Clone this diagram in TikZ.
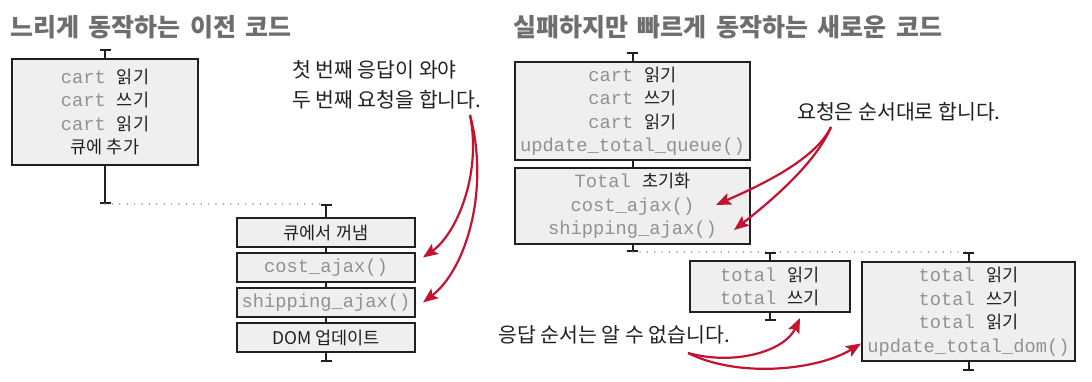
\documentclass[tikz,border=0pt]{standalone}
\usepackage{fontspec}
\setmainfont{Noto Sans CJK KR}
\setmonofont{Liberation Mono}[Scale=1.07]
\usetikzlibrary{arrows.meta,calc}
\definecolor{boxfill}{RGB}{239,239,239}
\definecolor{boxline}{RGB}{35,31,32}
\definecolor{codegray}{RGB}{145,145,145}
\definecolor{titlegray}{RGB}{110,110,110}
\definecolor{notered}{RGB}{196,18,48}
\newcommand{\codetxt}[1]{{\ttfamily\color{codegray}#1}}
\newcommand{\titlefont}{\fontsize{25}{28}\selectfont\bfseries\spaceskip 0.38em\relax}

\begin{document}
\begin{tikzpicture}[x=1pt,y=-1pt,
  codebox/.style={draw=boxline,fill=boxfill,line width=2pt,inner sep=0pt,
    align=center,text=boxline,font=\fontsize{17.5}{23.5}\selectfont},
  tick/.style={draw=boxline,line width=2pt,-{Bar[width=11pt]}},
  dotline/.style={draw=codegray,line width=1.7pt,line cap=round,dash pattern=on 0pt off 7.4pt},
  titletxt/.style={anchor=west,inner sep=0pt,text=titlegray,font=\titlefont},
  notetxt/.style={anchor=west,inner sep=0pt,align=left,text=boxline,font=\fontsize{20.5}{30}\selectfont},
  redarrow/.style={draw=notered,line width=2.2pt,-{Stealth[length=15pt,width=12pt,inset=3pt]}}]
  \useasboundingbox (0,0) rectangle (1092,382);

  % Titles
  \node[titletxt] (ttlold) at (10,27) {느리게 동작하는 이전 코드};
  \node[titletxt] (ttlnew) at (513,27) {실패하지만 빠르게 동작하는 새로운 코드};

  % Old code (left)
  \node[codebox,minimum width=186pt,minimum height=106pt] (oldcart) at (105,112)
        {\codetxt{cart\ }읽기\\\codetxt{cart\ }쓰기\\\codetxt{cart\ }읽기\\큐에 추가};
  \node[codebox,minimum width=178pt,minimum height=29pt] (dequeue) at (326,232.5) {큐에서 꺼냄};
  \node[codebox,minimum width=178pt,minimum height=29pt] (oldcost) at (326,267.5) {\codetxt{cost\_ajax()}};
  \node[codebox,minimum width=178pt,minimum height=29pt] (oldship) at (326,302.5) {\codetxt{shipping\_ajax()}};
  \node[codebox,minimum width=178pt,minimum height=29pt] (domupd) at (326,337.5) {DOM 업데이트};

  \coordinate (oldjoinA) at (105,204);
  \coordinate (oldjoinB) at (326,204);
  \draw[tick] (oldcart.north) -- ++(0,-9);
  \draw[tick] (oldcart.south) -- (oldjoinA);
  \draw[dotline] (oldjoinA) -- (oldjoinB);
  \draw[tick] (dequeue.north) -- (oldjoinB);
  \draw[boxline,line width=2pt] (dequeue.south) -- (oldcost.north);
  \draw[boxline,line width=2pt] (oldcost.south) -- (oldship.north);
  \draw[boxline,line width=2pt] (oldship.south) -- (domupd.north);
  \draw[tick] (domupd.south) -- ++(0,9);

  % New code (right)
  \node[codebox,minimum width=235pt,minimum height=98pt] (newcart) at (632.5,111)
        {\codetxt{cart\ }읽기\\\codetxt{cart\ }쓰기\\\codetxt{cart\ }읽기\\\codetxt{update\_total\_queue()}};
  \node[codebox,minimum width=235pt,minimum height=76pt] (newinit) at (632.5,206)
        {\codetxt{Total\ }초기화\\\codetxt{cost\_ajax()}\\\codetxt{shipping\_ajax()}};
  \node[codebox,minimum width=160pt,minimum height=51pt] (costcb) at (770,286.5)
        {\codetxt{total\ }읽기\\\codetxt{total\ }쓰기};
  \node[codebox,minimum width=213pt,minimum height=99pt] (shipcb) at (968.5,311.5)
        {\codetxt{total\ }읽기\\\codetxt{total\ }쓰기\\\codetxt{total\ }읽기\\\codetxt{update\_total\_dom()}};

  \coordinate (newjoinA) at (632.5,252);
  \coordinate (newjoinB) at (770,252);
  \coordinate (newjoinC) at (968.5,252);
  \draw[tick] (newcart.north) -- ++(0,-9);
  \draw[boxline,line width=2pt] (newcart.south) -- (newinit.north);
  \draw[tick] (newinit.south) -- (newjoinA);
  \draw[dotline] (newjoinA) -- (newjoinC);
  \draw[tick] (costcb.north) -- (newjoinB);
  \draw[tick] (shipcb.north) -- (newjoinC);
  \draw[tick] (costcb.south) -- ++(0,8);
  \draw[tick] (shipcb.south) -- ++(0,9);

  % Notes
  \node[notetxt] (notewait) at (292,85) {첫 번째 응답이 와야\\두 번째 요청을 합니다.};
  \node[notetxt] (noteorder) at (797,112) {요청은 순서대로 합니다.};
  \node[notetxt] (noteunknown) at (498,335) {응답 순서는 알 수 없습니다.};

  \coordinate (fromwait) at (470,115);
  \coordinate (fromorder) at ($(noteorder.west)+(34,15)$);
  \coordinate (fromunknown) at ($(noteunknown.west)+(190,18)$);

  % Red arrows
  \draw[redarrow] (fromwait) .. controls +(12,60) and +(33,-23) .. ($(oldcost.east)+(7,-10)$);
  \draw[redarrow] (fromwait) .. controls +(20,75) and +(43,-33) .. ($(oldship.east)+(7,0)$);
  \draw[redarrow] (fromorder) .. controls +(-16,33) and +(45,-20) .. ($(newinit.east)+(-35,-1)$);
  \draw[redarrow] (fromorder) .. controls +(-16,38) and +(32,-25) .. ($(newinit.east)+(-17,24)$);
  \draw[redarrow] (fromunknown) .. controls +(47,13) and +(-15,33) .. ($(costcb.south)+(30,5)$);
  \draw[redarrow] (fromunknown) .. controls +(52,26) and +(-42,26) .. ($(shipcb.west)+(0,32)$);
\end{tikzpicture}
\end{document}
